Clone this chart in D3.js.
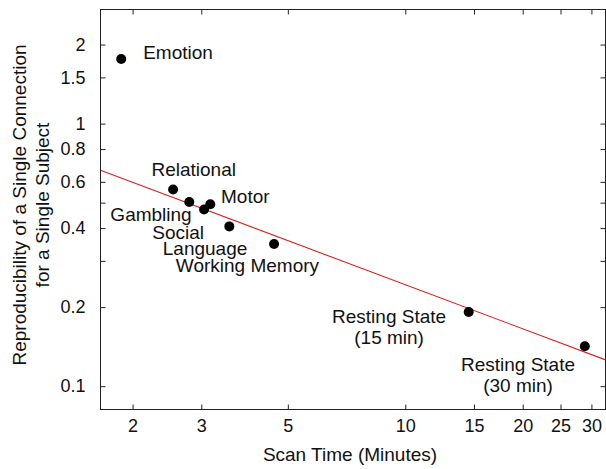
<!DOCTYPE html>
<html>
<head>
<meta charset="utf-8">
<script src="https://cdn.jsdelivr.net/npm/d3@7"></script>
<style>
  html, body { margin: 0; padding: 0; background: #fff; }
  svg { display: block; }
  text { font-family: "Liberation Sans", Arial, Helvetica, sans-serif; fill: #111; }
</style>
</head>
<body>
<svg id="chart" width="606" height="469"></svg>
<script>
// ---- Data ----
const tasks = ["Emotion", "Relational", "Gambling", "Social", "Motor", "Language", "Working Memory", "Resting State (15 min)", "Resting State (30 min)"];
const scanTime = [1.87, 2.54, 2.795, 3.05, 3.164, 3.54, 4.61, 14.54, 28.85];
const reproducibility = [1.762, 0.561, 0.503, 0.4705, 0.493, 0.406, 0.348, 0.1917, 0.1419];
// power-law fit: y = fitCoef * x ^ fitExponent
const fitCoef = 0.88;
const fitExponent = -0.558;
const xTicks = [2, 3, 5, 10, 15, 20, 25, 30];
const yTicks = [2, 1.5, 1, 0.8, 0.6, 0.5, 0.4, 0.3, 0.2, 0.1];
const yTickLabels = ["2", "1.5", "1", "0.8", "0.6", "", "0.4", "", "0.2", "0.1"];
const xTitle = "Scan Time (Minutes)";
const yTitle = ["Reproducibility of a Single Connection", "for a Single Subject"];

// ---- Layout (label placement relative to each point) ----
const labelPlacement = [
  { dx: 22, dy: 0, anchor: "start" },
  { dx: -21.6, dy: -13.3, anchor: "start" },
  { dx: 2.4, dy: 19.3, anchor: "end" },
  { dx: 0, dy: 29, anchor: "end" },
  { dx: 10.7, dy: -1.7, anchor: "start" },
  { dx: 18, dy: 28.3, anchor: "end" },
  { dx: 45, dy: 28, anchor: "end" },
  { dx: -79.6, dy: 10.8, anchor: "middle" },
  { dx: -66.8, dy: 24.7, anchor: "middle" }
];

const L = 100.5, R = 605.5, T = 9.5, B = 409.5;
const svg = d3.select("#chart");

const x = d3.scaleLog().domain([1.655, 32.6]).range([L, R]);
const y = d3.scaleLog().domain([2.72, 0.0815]).range([T, B]);

const FS = 19;

// frame
svg.append("rect").attr("x", L).attr("y", T).attr("width", R - L).attr("height", B - T)
  .attr("fill", "none").attr("stroke", "#222").attr("stroke-width", 1);

// axes with inward ticks
const tickLen = 5;
const xAxisB = d3.axisBottom(x).tickValues(xTicks).tickSize(-tickLen).tickFormat(d3.format("d")).tickPadding(10);
const gx = svg.append("g").attr("transform", `translate(0,${B})`).call(xAxisB);
gx.select(".domain").remove();
gx.selectAll("line").attr("stroke", "#222");
gx.selectAll("text").attr("font-size", 18).attr("fill", "#111").attr("dy", "0.71em")
  .attr("font-family", '"Liberation Sans", Arial, sans-serif');

const gxT = svg.append("g").attr("transform", `translate(0,${T})`)
  .call(d3.axisTop(x).tickValues(xTicks).tickSize(-tickLen).tickFormat(""));
gxT.select(".domain").remove();
gxT.selectAll("line").attr("stroke", "#222");

const yAxisL = d3.axisLeft(y).tickValues(yTicks).tickSize(-tickLen).tickPadding(15)
  .tickFormat((d, i) => yTickLabels[i]);
const gy = svg.append("g").attr("transform", `translate(${L},0)`).call(yAxisL);
gy.select(".domain").remove();
gy.selectAll("line").attr("stroke", "#222");
gy.selectAll("text").attr("font-size", 18).attr("fill", "#111")
  .attr("font-family", '"Liberation Sans", Arial, sans-serif');

const gyR = svg.append("g").attr("transform", `translate(${R},0)`)
  .call(d3.axisRight(y).tickValues(yTicks).tickSize(-tickLen).tickFormat(""));
gyR.select(".domain").remove();
gyR.selectAll("line").attr("stroke", "#222");

// fit line
const [x0, x1] = x.domain();
const fitPts = [x0, x1].map(v => [v, fitCoef * Math.pow(v, fitExponent)]);
svg.append("defs").append("clipPath").attr("id", "clip")
  .append("rect").attr("x", L).attr("y", T).attr("width", R - L).attr("height", B - T);
svg.append("path")
  .datum(fitPts)
  .attr("clip-path", "url(#clip)")
  .attr("d", d3.line().x(d => x(d[0])).y(d => y(d[1])))
  .attr("fill", "none").attr("stroke", "#e0201c").attr("stroke-width", 1.1);

// points
svg.append("g").selectAll("circle")
  .data(tasks)
  .join("circle")
  .attr("cx", (d, i) => x(scanTime[i]))
  .attr("cy", (d, i) => y(reproducibility[i]))
  .attr("r", 5)
  .attr("fill", "#000");

// point labels
const lg = svg.append("g");
tasks.forEach((t, i) => {
  const p = labelPlacement[i];
  const px = x(scanTime[i]) + p.dx;
  const py = y(reproducibility[i]) + p.dy;
  const m = t.match(/^(.*) (\(.*\))$/);
  const lines = m ? [m[1], m[2]] : [t];
  const txt = lg.append("text").attr("font-size", FS).attr("text-anchor", p.anchor);
  lines.forEach((ln, k) => {
    txt.append("tspan").attr("x", px).attr("y", py + k * 21).text(ln);
  });
});

// axis titles
svg.append("text").attr("x", 350).attr("y", 461).attr("text-anchor", "middle")
  .attr("font-size", FS).text(xTitle);

const yt = svg.append("text").attr("transform", "translate(0,205) rotate(-90)")
  .attr("text-anchor", "middle").attr("font-size", FS);
yt.append("tspan").attr("x", 0).attr("y", 26).text(yTitle[0]);
yt.append("tspan").attr("x", 0).attr("y", 49).text(yTitle[1]);
</script>
</body>
</html>
